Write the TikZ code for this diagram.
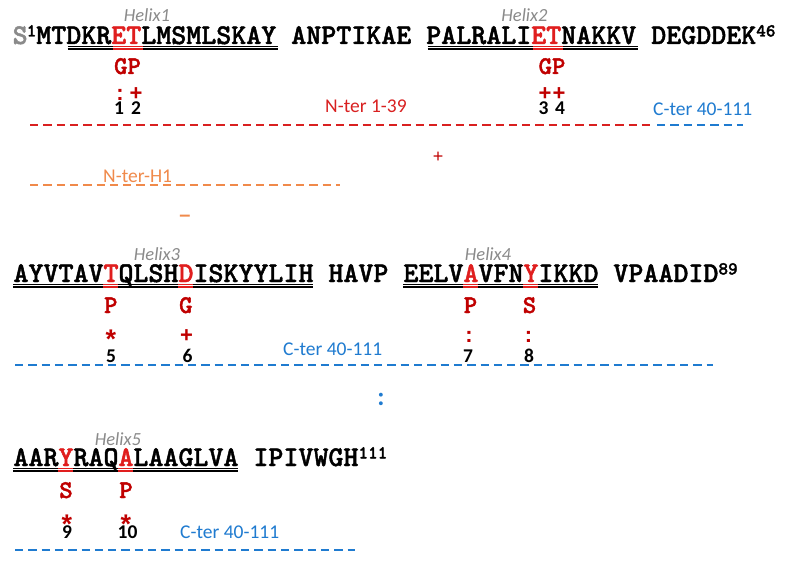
\documentclass[tikz,border=0pt]{standalone}
\usepackage{fontspec}
\setmainfont{Carlito}
\newfontfamily\calf{Carlito}
\newfontfamily\symf{Liberation Sans}
\newfontfamily\lmm{lmmonolt10-bold.otf}[FakeBold=1.6]
\newcommand\courb{\lmm}
\newcommand\starsym{\raisebox{-11.9pt}[7.6pt][0pt]{*}}
\definecolor{sred}{HTML}{E01E1E}
\definecolor{mred}{HTML}{C00000}
\definecolor{lred}{HTML}{D92020}
\definecolor{lblue}{HTML}{1F7BD0}
\definecolor{lorange}{HTML}{F08A4B}
\definecolor{hgray}{HTML}{8A8A8A}
\newcommand\supn[1]{{\fontsize{18.3}{18.3}\selectfont\raisebox{7.5pt}{#1}}}
\tikzset{
 seqtext/.style={anchor=base west, inner sep=0pt, font=\courb\fontsize{28.57}{28.57}\selectfont},
 helix/.style={anchor=base, inner sep=0pt, text=hgray, font=\calf\itshape\fontsize{18.5}{18.5}\selectfont},
 mut/.style={anchor=base, inner sep=0pt, text=mred, font=\courb\fontsize{25.5}{25.5}\selectfont},
 sym/.style={anchor=base, inner sep=0pt, text=mred, font=\symf\bfseries\fontsize{22}{22}\selectfont},
 star/.style={anchor=base, inner sep=0pt, text=mred, font=\symf\bfseries\fontsize{27}{27}\selectfont},
 num/.style={anchor=base, inner sep=0pt, font=\calf\bfseries\fontsize{19.5}{19.5}\selectfont},
 lab/.style={anchor=base west, inner sep=0pt, font=\calf\fontsize{19.5}{19.5}\selectfont},
 dashln/.style={line width=2.6pt, dash pattern=on 8.3pt off 5pt},
 ulthin/.style={line width=1.2pt},
 ulthick/.style={line width=2pt}
}
\newcommand\sequl[4]{%
  \draw[#4, ulthin] (#1,#3+2.3) -- (#2,#3+2.3);
  \draw[#4, ulthick] (#1,#3+5) -- (#2,#3+5);}
\begin{document}
\begin{tikzpicture}[x=1pt,y=-1pt]
\useasboundingbox[fill=white] (0,0) rectangle (786,567);

% ---------- line 1 ----------
\node[seqtext] (seq1) at (12.5,44) {\textcolor{hgray}{S}\hspace{-1pt}\supn{1}MTDKR\textcolor{sred}{ET}LMSMLSKAY ANPTIKAE PALRALI\textcolor{sred}{ET}NAKKV DEGDDEK\supn{46}};
\sequl{67.5}{277.5}{44}{black}
\sequl{112.5}{142.5}{44}{sred}
\sequl{427.5}{637.5}{44}{black}
\sequl{532.5}{562.5}{44}{sred}
\node[helix] (h1) at (147,22) {Helix1};
\node[helix] (h2) at (524.5,22) {Helix2};
\node[mut] (m1) at (127.5,74) {GP};
\node[mut] (m2) at (552,74) {GP};
\node[sym] (s1) at (120,100.5) {:};
\node[sym] (s2) at (136,100.5) {+};
\node[sym] (s3) at (545,100.5) {+};
\node[sym] (s4) at (559,100.5) {+};
\node[num] (n1) at (119,114) {1};
\node[num] (n2) at (136,114) {2};
\node[num] (n3) at (543.5,114) {3};
\node[num] (n4) at (560,114) {4};
\node[lab, text=lred] (nter) at (325,113) {N-ter 1-39};
\node[lab, text=lblue] (cter1) at (653,115) {C-ter 40-111};
\coordinate (r1a) at (30,125);
\coordinate (r1b) at (653,125);
\coordinate (b1a) at (657,125);
\coordinate (b1b) at (743,125);
\draw[dashln, lred] (r1a) -- (r1b);
\draw[dashln, lblue] (b1a) -- (b1b);

% ---------- middle ----------
\node[anchor=base, inner sep=0pt, text=mred, font=\symf\fontsize{18}{18}\selectfont] (plusmid) at (438,162.5) {+};
\node[lab, text=lorange] (nterh1) at (103,182) {N-ter-H1};
\coordinate (o1a) at (30,185);
\coordinate (o1b) at (340,185);
\draw[dashln, lorange] (o1a) -- (o1b);
\node[anchor=base, inner sep=0pt, text=lorange, font=\symf\bfseries\fontsize{20}{20}\selectfont] (minus) at (185,221) {–};

% ---------- line 2 ----------
\node[seqtext] (seq2) at (13.3,282) {AYVTAV\textcolor{sred}{T}QLSH\textcolor{sred}{D}ISKYYLIH HAVP EELV\textcolor{sred}{A}VFN\textcolor{sred}{Y}IKKD VPAADID\supn{89}};
\sequl{13.3}{313.3}{282}{black}
\sequl{103.3}{118.3}{282}{sred}
\sequl{178.3}{193.3}{282}{sred}
\sequl{403.3}{598.3}{282}{black}
\sequl{463.3}{478.3}{282}{sred}
\sequl{523.3}{538.3}{282}{sred}
\node[helix] (h3) at (157,260) {Helix3};
\node[helix] (h4) at (488,260) {Helix4};
\node[mut] (m3) at (110.8,313) {P};
\node[mut] (m4) at (185.8,313) {G};
\node[mut] (m5) at (470.5,313) {P};
\node[mut] (m6) at (529.5,313) {S};
\node[star] (s5) at (111,337) {\starsym};
\node[sym] (s6) at (186.5,342) {+};
\node[sym] (s7) at (469,342) {:};
\node[sym] (s8) at (528.5,342) {:};
\node[num] (n5) at (111,362.5) {5};
\node[num] (n6) at (187.5,362.5) {6};
\node[num] (n7) at (468,362.5) {7};
\node[num] (n8) at (529,362.5) {8};
\node[lab, text=lblue] (cter2) at (283,355) {C-ter 40-111};
\coordinate (b2a) at (15,365);
\coordinate (b2b) at (713,365);
\draw[dashln, lblue] (b2a) -- (b2b);

\node[anchor=base, inner sep=0pt, text=lblue, font=\calf\bfseries\fontsize{26}{26}\selectfont] (colmid) at (381,405) {:};

% ---------- line 3 ----------
\node[seqtext] (seq3) at (13.3,466) {AAR\textcolor{sred}{Y}RAQ\textcolor{sred}{A}LAAGLVA IPIVWGH\supn{111}};
\sequl{13.3}{238.3}{466}{black}
\sequl{58.3}{73.3}{466}{sred}
\sequl{118.3}{133.3}{466}{sred}
\node[helix] (h5) at (118,445) {Helix5};
\node[mut] (m7) at (66,498) {S};
\node[mut] (m8) at (126,498) {P};
\node[star] (s9) at (67,522) {\starsym};
\node[star] (s10) at (126,522) {\starsym};
\node[num] (n9) at (67,538.5) {9};
\node[num] (n10) at (127.5,538.5) {10};
\node[lab, text=lblue] (cter3) at (180,538) {C-ter 40-111};
\coordinate (b3a) at (15,550);
\coordinate (b3b) at (355,550);
\draw[dashln, lblue] (b3a) -- (b3b);
\end{tikzpicture}
\end{document}
